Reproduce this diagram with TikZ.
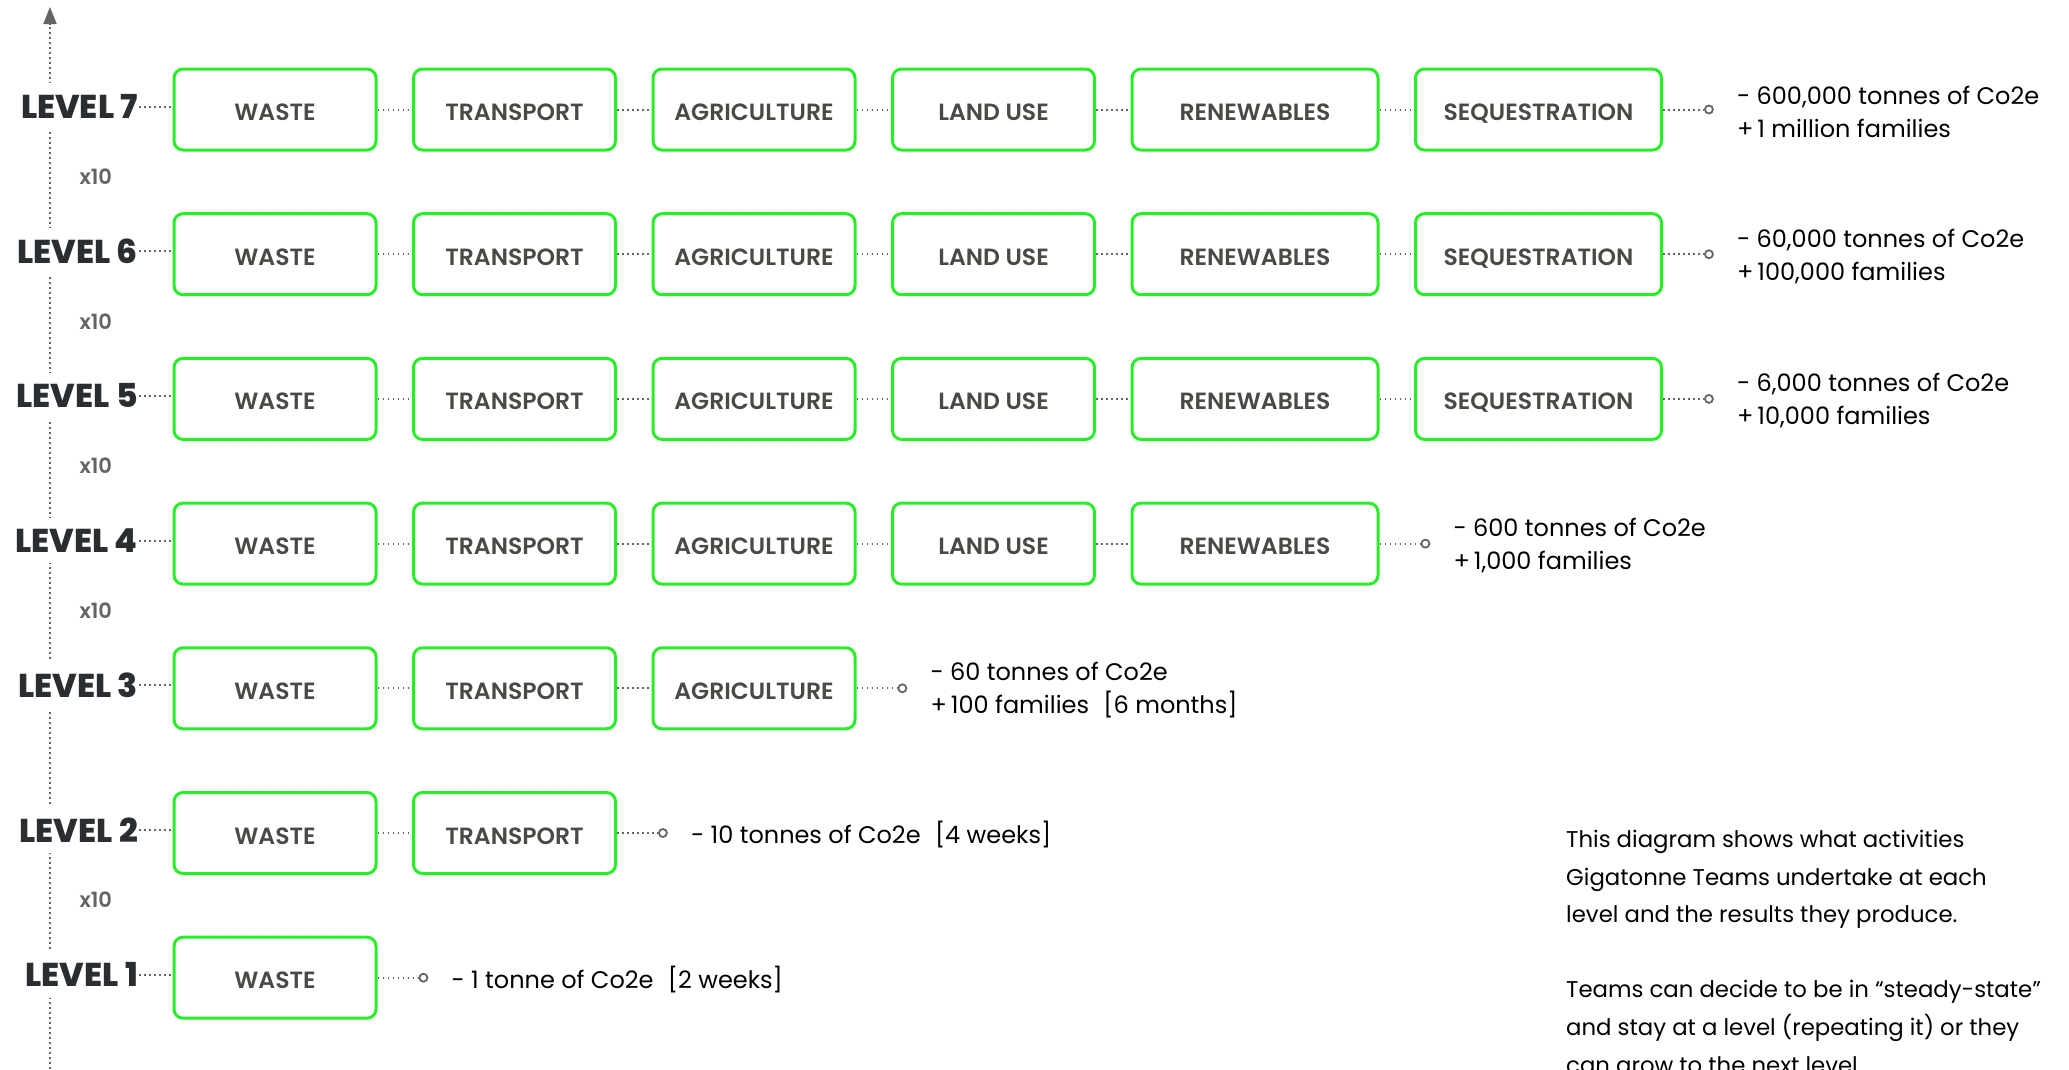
\documentclass[tikz,border=0pt]{standalone}
\usepackage{fontspec}
\setmainfont{Poppins}
\newfontfamily\boxfont{Poppins SemiBold}
\newfontfamily\lvlfont{Poppins ExtraBold}
\usetikzlibrary{positioning,arrows.meta}

\definecolor{boxgreen}{RGB}{40,238,40}
\definecolor{boxtext}{RGB}{74,74,68}
\definecolor{lvltext}{RGB}{42,46,48}
\definecolor{dotgray}{RGB}{100,100,100}

\newcommand{\gap}{\hskip 0.6em\relax}

\tikzset{
    box/.style={draw=boxgreen, line width=3pt, rounded corners=9pt,
        minimum height=81pt, inner sep=0pt, text=boxtext,
        text height=22pt, text depth=0pt,
        font=\boxfont\fontsize{23.5}{23.5}\selectfont},
    lvl/.style={fill=white, text=lvltext, inner xsep=1pt, inner ysep=11pt,
        anchor=east, font=\lvlfont\fontsize{33}{33}\selectfont},
    dots/.style={draw=dotgray, line width=2pt, dash pattern=on 1.6pt off 3.4pt},
    ring/.style={circle, draw=dotgray, line width=1.8pt, inner sep=0pt,
        minimum size=8pt},
    result/.style={anchor=west, align=left, inner sep=3pt, yshift=-2pt,
        font=\fontsize{24}{33}\selectfont},
    times/.style={anchor=west, text=dotgray, font=\boxfont\fontsize{21}{21}\selectfont}
}

\begin{document}
\begin{tikzpicture}[x=1pt,y=-1pt]
    \useasboundingbox (0,0) rectangle (2069,1069);

    % axis
    \draw[dots,-{Triangle[width=13pt,length=17pt]},dotgray] (50,1069) -- (50,7);

    \foreach \n/\last/\res in {
            7/6/{- 600,000 tonnes of Co2e\\+\,1 million families},
            6/6/{- 60,000 tonnes of Co2e\\+\,100,000 families},
            5/6/{- 6,000 tonnes of Co2e\\+\,10,000 families},
            4/5/{- 600 tonnes of Co2e\\+\,1,000 families},
            3/3/{- 60 tonnes of Co2e\\+\,100 families\gap[6 months]},
            2/2/{- 10 tonnes of Co2e\gap[4 weeks]},
            1/1/{- 1 tonne of Co2e\gap[2 weeks]}} {
        \pgfmathsetmacro\rowy{109.5+(7-\n)*144.7}
        \node[lvl] (lv\n) at (139,\rowy-3) {LEVEL \n};
        \node[box, minimum width=202pt] (b\n-1) at (275,\rowy) {WASTE};
        \draw[dots] (lv\n) -- (lv\n -| b\n-1.west);
        \foreach \name [count=\i from 2, remember=\i as \j (initially 1)]
                in {TRANSPORT,AGRICULTURE,LAND USE,RENEWABLES,SEQUESTRATION} {
            \ifnum\i>\last\relax\else
                \node[box, minimum width={\i>4 ? 246 : 202}, right=34.5pt of b\n-\j]
                    (b\n-\i) {\name};
                \draw[dots] (b\n-\j) -- (b\n-\i);
            \fi
        }
        \node[ring, right=41pt of b\n-\last] (end\n) {};
        \draw[dots] (b\n-\last) -- (end\n);
        \node[result, right=20pt of end\n] (res\n) {\res};
    }

    % growth factors
    \foreach \n in {7,6,5,4,2}
        \node[times] (x\n) at (76,{109.5+(7-\n)*144.7+67}) {x10};

    \node[anchor=north west, align=left, inner sep=0pt,
        font=\fontsize{22.8}{37.6}\selectfont] (note) at (1566,830)
        {This diagram shows what activities\\
         Gigatonne Teams undertake at each\\
         level and the results they produce.\\[37.6pt]
         Teams can decide to be in “steady-state”\\
         and stay at a level (repeating it) or they\\
         can grow to the next level.};
\end{tikzpicture}
\end{document}
